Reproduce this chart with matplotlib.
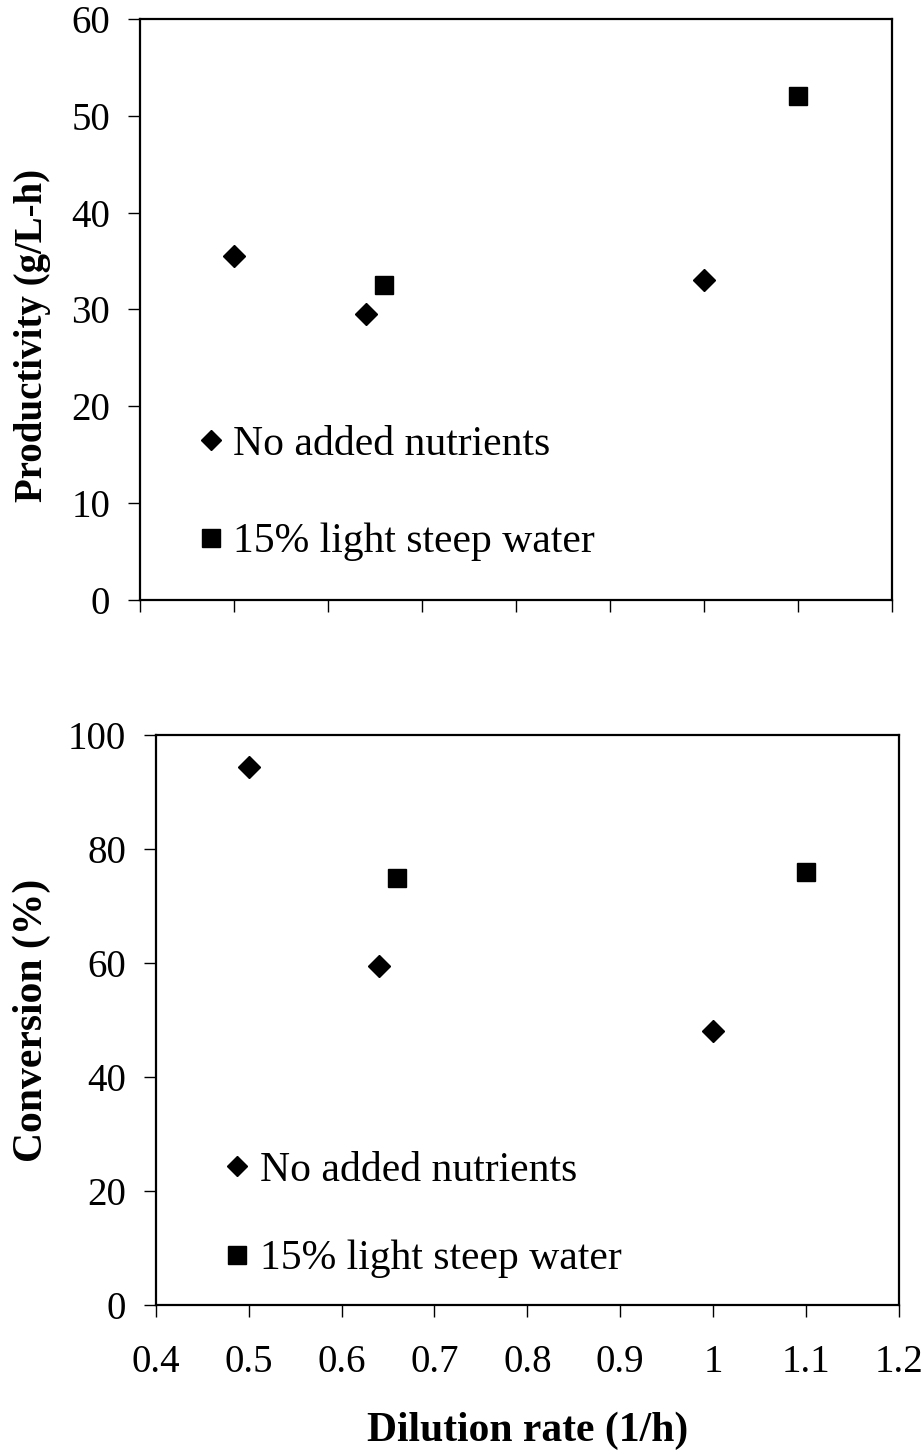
import matplotlib
matplotlib.use("Agg")
import matplotlib.pyplot as plt

plt.rcParams['font.family'] = ['Liberation Serif', 'DejaVu Serif']

# Data
no_nut_D = [0.5, 0.64, 1.0]
no_nut_prod = [35.5, 29.5, 33.0]
no_nut_conv = [94.5, 59.5, 48.0]

lsw_D = [0.66, 1.1]
lsw_prod = [32.5, 52.0]
lsw_conv = [75.0, 76.0]

x_ticks = [0.4, 0.5, 0.6, 0.7, 0.8, 0.9, 1.0, 1.1, 1.2]
x_ticklabels = ["0.4", "0.5", "0.6", "0.7", "0.8", "0.9", "1", "1.1", "1.2"]
prod_ticks = [0, 10, 20, 30, 40, 50, 60]
conv_ticks = [0, 20, 40, 60, 80, 100]

label_no = "No added nutrients"
label_lsw = "15% light steep water"

fig = plt.figure(figsize=(9.22, 14.53), dpi=100)
ax1 = fig.add_axes([0.152, 0.587, 0.815, 0.400])
ax2 = fig.add_axes([0.169, 0.102, 0.806, 0.392])

for ax in (ax1, ax2):
    for s in ax.spines.values():
        s.set_linewidth(1.6)
        s.set_color('black')
    ax.tick_params(axis='both', direction='out', length=8.5, width=1.0,
                   labelsize=28, colors='black')
    ax.tick_params(axis='y', pad=13)
    ax.tick_params(axis='x', pad=20)
    ax.set_xlim(0.4, 1.2)
    ax.set_xticks(x_ticks)

# Top panel
ax1.plot(no_nut_D, no_nut_prod, linestyle='none', marker='D', ms=11,
         color='black', label=label_no)
ax1.plot(lsw_D, lsw_prod, linestyle='none', marker='s', ms=13,
         color='black', label=label_lsw)
ax1.set_ylim(0, 60)
ax1.set_yticks(prod_ticks)
ax1.set_xticklabels([])
ax1.set_ylabel("Productivity (g/L-h)", fontsize=28, fontweight='bold')
ax1.yaxis.set_label_coords(-0.118, 0.455)
ax1.legend(loc='lower left', bbox_to_anchor=(0.016, 0.002), frameon=False,
           fontsize=30, labelspacing=1.42, handletextpad=0.05,
           handlelength=1.0, markerscale=0.95)

# Bottom panel
ax2.plot(no_nut_D, no_nut_conv, linestyle='none', marker='D', ms=11,
         color='black', label=label_no)
ax2.plot(lsw_D, lsw_conv, linestyle='none', marker='s', ms=13,
         color='black', label=label_lsw)
ax2.set_ylim(0, 100)
ax2.set_yticks(conv_ticks)
ax2.set_xticklabels(x_ticklabels)
ax2.set_ylabel("Conversion (%)", fontsize=30, fontweight='bold', labelpad=12)
ax2.set_xlabel("Dilution rate (1/h)", fontsize=30, fontweight='bold', labelpad=22)
ax2.legend(loc='lower left', bbox_to_anchor=(0.031, -0.019), frameon=False,
           fontsize=30, labelspacing=1.2, handletextpad=0.05,
           handlelength=1.0, markerscale=0.95)

fig.savefig("out.png", dpi=100)
